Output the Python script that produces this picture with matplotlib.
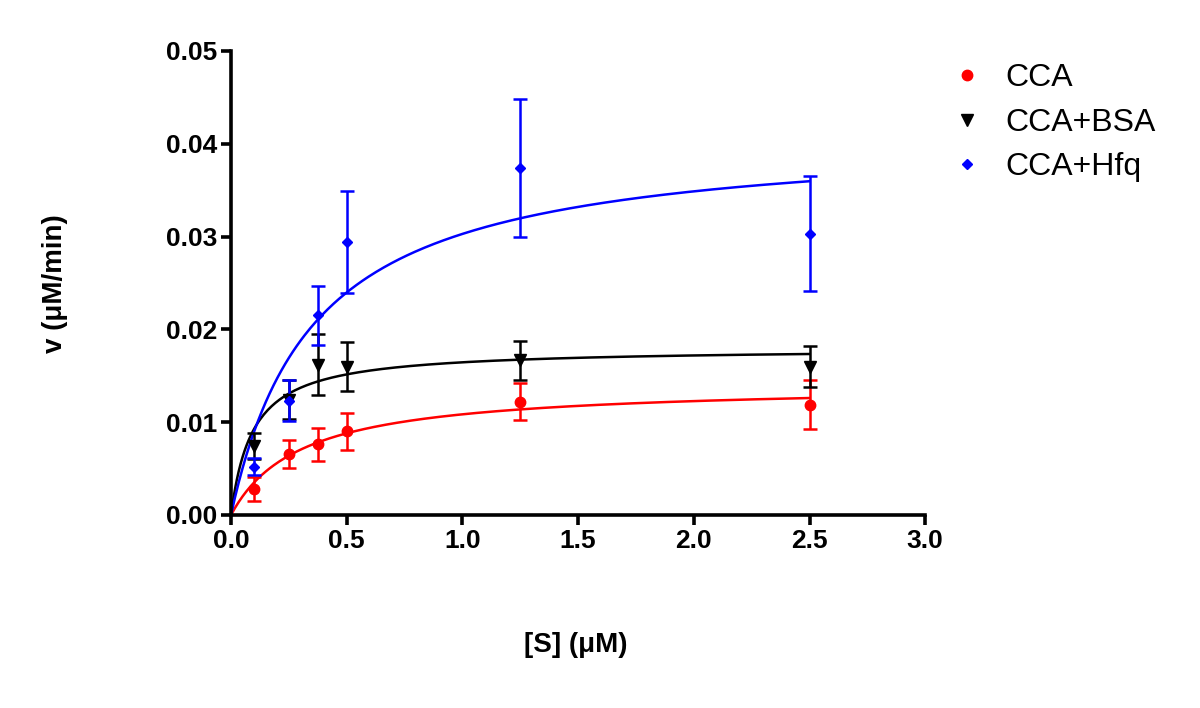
import numpy as np
import matplotlib
matplotlib.use("Agg")
import matplotlib.pyplot as plt

plt.rcParams['font.family'] = ['Liberation Sans', 'DejaVu Sans']

# substrate concentrations (uM)
s_conc = [0.1, 0.25, 0.375, 0.5, 1.25, 2.5]

# measured rates (uM/min) and error (SD)
cca_v = [0.0028, 0.0066, 0.0076, 0.0090, 0.0122, 0.0119]
cca_err = [0.0013, 0.0015, 0.0018, 0.0020, 0.0020, 0.0026]
bsa_v = [0.0074, 0.0124, 0.0162, 0.0160, 0.0167, 0.0160]
bsa_err = [0.0014, 0.0021, 0.0033, 0.0026, 0.0021, 0.0022]
hfq_v = [0.0052, 0.0123, 0.0215, 0.0294, 0.0374, 0.0303]
hfq_err = [0.0009, 0.0022, 0.0032, 0.0055, 0.0074, 0.0062]

# Michaelis-Menten fit parameters (Vmax, Km)
cca_fit = (0.01413, 0.3025)
bsa_fit = (0.0180, 0.094)
hfq_fit = (0.0411, 0.357)

labels = ["CCA", "CCA+BSA", "CCA+Hfq"]
colors = ["#ff0000", "#000000", "#0000ff"]
markers = ["o", "v", "D"]
msizes = [7.5, 8, 5.5]

fig = plt.figure(figsize=(12, 7.08), dpi=100)
ax = fig.add_axes([0.1925, 0.2726, 0.5785, 0.6554])

series = [(cca_v, cca_err, cca_fit), (bsa_v, bsa_err, bsa_fit), (hfq_v, hfq_err, hfq_fit)]
xs = np.linspace(0, 2.5, 300)
handles = []
for (v, err, fit), lab, col, mk, ms in zip(series, labels, colors, markers, msizes):
    vmax, km = fit
    ax.plot(xs, vmax * xs / (km + xs), color=col, lw=1.8, zorder=2)
    ax.errorbar(s_conc, v, yerr=err, fmt='none', ecolor=col, elinewidth=1.8,
                capsize=5, capthick=1.8, zorder=3)
    h, = ax.plot(s_conc, v, linestyle='none', marker=mk, color=col, ms=ms, zorder=4)
    handles.append(h)

ax.set_xlim(0, 3.0)
ax.set_ylim(0, 0.05)
ax.set_xticks([0.0, 0.5, 1.0, 1.5, 2.0, 2.5, 3.0])
ax.set_yticks([0.0, 0.01, 0.02, 0.03, 0.04, 0.05])
ax.set_xticklabels(["0.0", "0.5", "1.0", "1.5", "2.0", "2.5", "3.0"])
ax.set_yticklabels(["0.00", "0.01", "0.02", "0.03", "0.04", "0.05"])

for side in ["top", "right"]:
    ax.spines[side].set_visible(False)
for side in ["left", "bottom"]:
    ax.spines[side].set_linewidth(2.6)
ax.tick_params(width=2.6, length=7, direction='out', labelsize=19, pad=3)
for t in ax.get_xticklabels() + ax.get_yticklabels():
    t.set_fontweight('bold')

fig.text(0.046, 0.6, "v (\u03bcM/min)", rotation=90, ha='center', va='center',
         fontsize=20, fontweight='bold')
fig.text(0.48, 0.089, "[S] (\u03bcM)", ha='center', va='center',
         fontsize=20, fontweight='bold')

leg = fig.legend(handles, labels, loc='upper left', bbox_to_anchor=(0.766, 0.951),
                 frameon=False, fontsize=23, handlelength=1.2, handletextpad=0.6,
                 labelspacing=0.45, markerscale=1.0)

fig.savefig("out.png", dpi=100)
